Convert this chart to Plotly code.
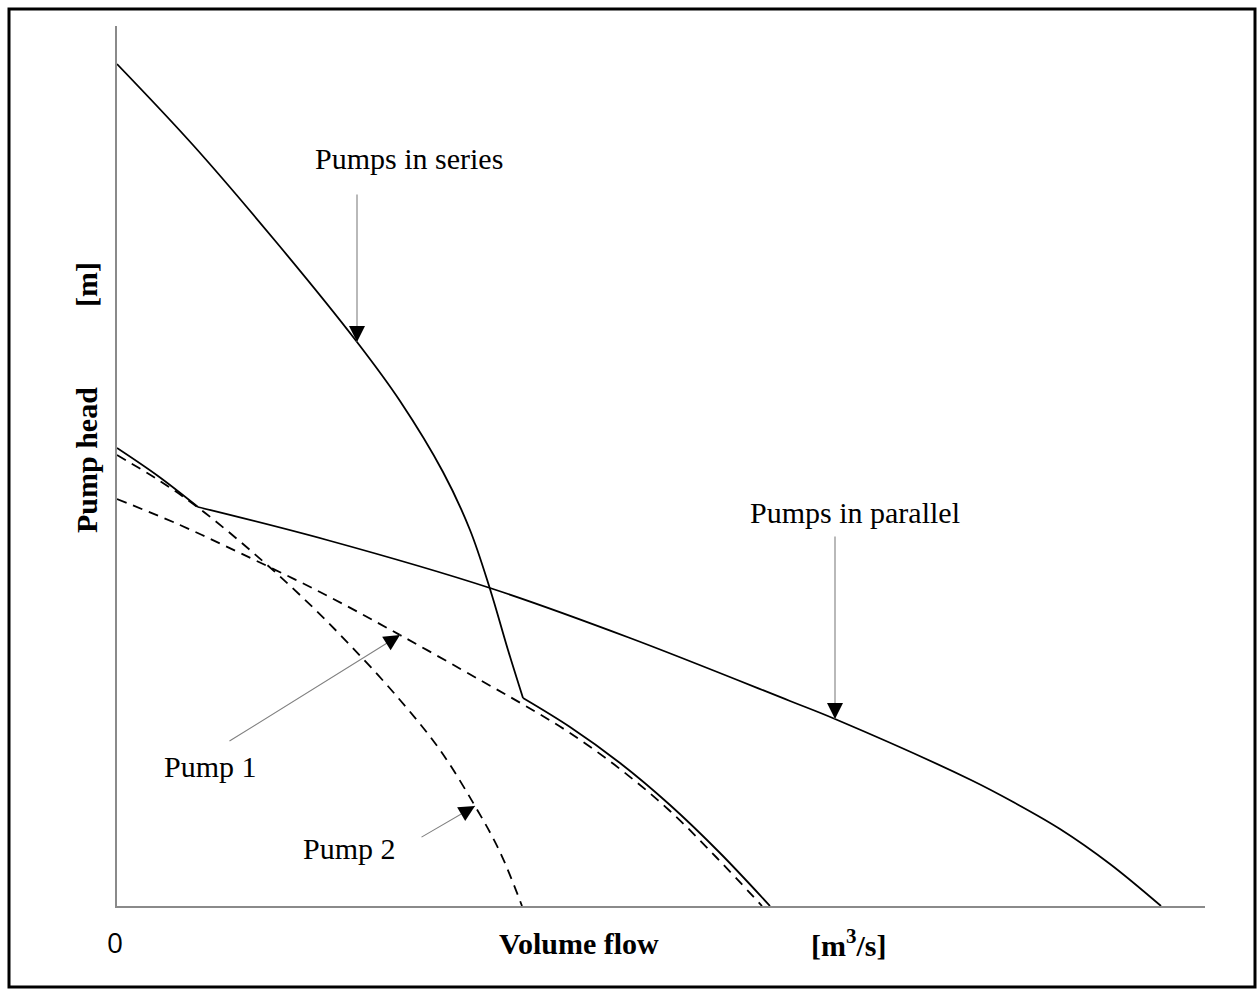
import plotly.graph_objects as go

# Pump characteristic curves (flow Q, head H), arbitrary units
pump1_q = [0, 0.63, 1.23, 2.03, 2.83, 3.63, 4.07, 4.53, 5.03, 5.53, 6.00, 6.45]
pump1_h = [4.07, 3.81, 3.53, 3.14, 2.71, 2.26, 2.01, 1.73, 1.37, 0.95, 0.48, 0.0]

pump2_q = [0, 0.43, 0.83, 1.33, 1.83, 2.33, 2.83, 3.23, 3.58, 3.83, 4.05]
pump2_h = [4.51, 4.25, 3.97, 3.56, 3.11, 2.61, 2.06, 1.56, 1.00, 0.54, 0.0]

# Series combination: both pumps, then pump 1 alone once pump 2 runs dry
series_q_a = [0, 0.76, 1.60, 2.40, 2.83, 3.26, 3.53, 3.73, 3.91, 4.06]
series_h_a = [8.42, 7.61, 6.63, 5.64, 5.05, 4.34, 3.76, 3.17, 2.56, 2.08]
series_q_b = [4.06, 4.53, 5.03, 5.53, 6.03, 6.53]
series_h_b = [2.08, 1.79, 1.43, 1.01, 0.53, 0.0]

# Parallel combination: pump 2 alone above pump 1 shut-off head, then both
parallel_q_a = [0, 0.41, 0.81]
parallel_h_a = [4.58, 4.30, 3.99]
parallel_q_b = [0.81, 2.10, 3.73, 5.13, 6.73, 7.18, 8.54, 8.98, 9.43, 9.93, 10.44]
parallel_h_b = [3.99, 3.66, 3.18, 2.68, 2.05, 1.87, 1.26, 1.03, 0.77, 0.42, 0.0]

# Callout labels: text, text position, arrow tail, arrow tip
callouts = [
    ("Pumps in series", (2.92, 7.48), (2.40, 7.13), (2.40, 5.64)),
    ("Pumps in parallel", (7.38, 3.94), (7.18, 3.71), (7.18, 1.87)),
    ("Pump 1", (0.93, 1.40), (1.11, 1.64), (2.83, 2.71)),
    ("Pump 2", (2.32, 0.58), (3.03, 0.68), (3.58, 1.00)),
]

X_RANGE = [0, 10.88]
Y_RANGE = [0, 8.8]

W, H = 1258, 996
ML, MR, MT, MB = 117, 53, 26, 90
PW, PH = W - ML - MR, H - MT - MB

SERIF = "Liberation Serif, Times New Roman, serif"
FONT_SIZE = 30

fig = go.Figure()

solid = dict(color="black", width=1.8, shape="spline", smoothing=1)
dashed = dict(color="black", width=1.8, dash="10px,7px", shape="spline", smoothing=1)

fig.add_trace(go.Scatter(x=pump1_q, y=pump1_h, mode="lines", line=dashed, name="Pump 1"))
fig.add_trace(go.Scatter(x=pump2_q, y=pump2_h, mode="lines", line=dashed, name="Pump 2"))
fig.add_trace(go.Scatter(x=series_q_a, y=series_h_a, mode="lines", line=solid, name="Pumps in series"))
fig.add_trace(go.Scatter(x=series_q_b, y=series_h_b, mode="lines", line=solid, name="Pumps in series"))
fig.add_trace(go.Scatter(x=parallel_q_a, y=parallel_h_a, mode="lines", line=solid, name="Pumps in parallel"))
fig.add_trace(go.Scatter(x=parallel_q_b, y=parallel_h_b, mode="lines", line=solid, name="Pumps in parallel"))

# pixels per data unit, used to orient the short arrowhead annotations
sx = PW / (X_RANGE[1] - X_RANGE[0])
sy = PH / (Y_RANGE[1] - Y_RANGE[0])

annotations = []
for text, (tx, ty), (ax, ay), (hx, hy) in callouts:
    annotations.append(dict(
        x=tx, y=ty, xref="x", yref="y", text=text, showarrow=False,
        xanchor="center", yanchor="middle",
        font=dict(family=SERIF, size=FONT_SIZE, color="black"),
    ))
    # thin grey leader line
    annotations.append(dict(
        x=hx, y=hy, ax=ax, ay=ay, xref="x", yref="y", axref="x", ayref="y",
        text="", showarrow=True, arrowhead=0, arrowwidth=1.1, arrowcolor="#808080",
    ))
    # solid black arrowhead at the tip
    dx = (ax - hx) * sx
    dy = -(ay - hy) * sy
    n = (dx * dx + dy * dy) ** 0.5
    annotations.append(dict(
        x=hx, y=hy, ax=dx / n * 16, ay=dy / n * 16, xref="x", yref="y",
        text="", showarrow=True, arrowhead=2, arrowsize=3.2, arrowwidth=1,
        arrowcolor="black", standoff=0,
    ))


def paper_x(px):
    return (px - ML) / PW


def paper_y(py):
    return (H - MB - py) / PH


bold = dict(family=SERIF, size=FONT_SIZE, color="black")
centered = dict(xref="paper", yref="paper", xanchor="center", yanchor="middle", showarrow=False)
annotations += [
    dict(x=paper_x(86), y=paper_y(460), text="<b>Pump head</b>", textangle=-90, font=bold, **centered),
    dict(x=paper_x(86), y=paper_y(285), text="<b>[m]</b>", textangle=-90, font=bold, **centered),
    dict(x=paper_x(579), y=paper_y(943), text="<b>Volume flow</b>", font=bold, **centered),
    dict(x=paper_x(848), y=paper_y(943), text="<b>[m<sup>3</sup>/s]</b>", font=bold, **centered),
    dict(x=paper_x(115), y=paper_y(942), text="0",
         font=dict(family="Open Sans, sans-serif", size=28, color="black"), **centered),
]

axis_common = dict(showgrid=False, zeroline=False, showticklabels=False, ticks="",
                   showline=True, linecolor="#8a8a8a", linewidth=2, fixedrange=True)

fig.update_layout(
    width=W, height=H, autosize=False,
    margin=dict(l=ML, r=MR, t=MT, b=MB, pad=0),
    paper_bgcolor="white", plot_bgcolor="white",
    showlegend=False,
    xaxis=dict(range=X_RANGE, **axis_common),
    yaxis=dict(range=Y_RANGE, **axis_common),
    annotations=annotations,
    shapes=[dict(type="rect", xref="paper", yref="paper",
                 x0=paper_x(9), x1=paper_x(1255), y0=paper_y(987), y1=paper_y(9),
                 line=dict(color="black", width=3), fillcolor="rgba(0,0,0,0)", layer="above")],
)

fig.write_html("out.html")
